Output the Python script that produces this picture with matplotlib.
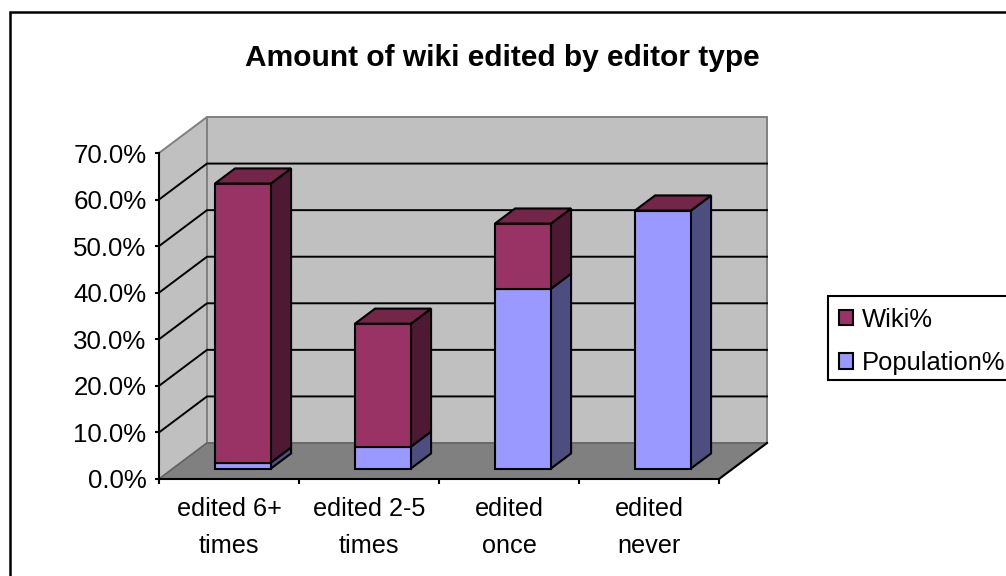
#!/usr/bin/env python

import matplotlib
matplotlib.use('Agg')
import matplotlib.pyplot as plt
from matplotlib.patches import Patch, Polygon, Rectangle

plt.rcParams['font.family'] = ['Liberation Sans', 'DejaVu Sans']

title = 'Amount of wiki edited by editor type'
categories = ['edited 6+\ntimes', 'edited 2-5\ntimes', 'edited\nonce', 'edited\nnever']
population = [1.3, 4.7, 38.6, 55.4]
wiki = [59.9, 26.4, 14.0, 0.0]
y_ticks = [0, 10, 20, 30, 40, 50, 60, 70]

WIKI_COLORS = ('#993366', '#4d1933', '#732647')
POP_COLORS = ('#9999ff', '#4d4d80', '#7373bf')
W, H = 1006, 576
YMAX = 70
LINE = 1.5

# oblique depth of the box, in category and percent units
DEPTH_X = 48 / 140
DEPTH_Y = 36 / (326 / YMAX)
BAR_WIDTH = 0.4
BAR_NEAR = 0.29
BAR_FAR = 0.71


def proj(x, y, d):
    return (x + d * DEPTH_X, y + d * DEPTH_Y)


def face(ax, corners, color, edge='black', lw=LINE, z=1):
    ax.add_patch(Polygon([proj(*c) for c in corners], closed=True, facecolor=color,
                         edgecolor=edge, linewidth=lw, joinstyle='miter',
                         clip_on=False, zorder=z))


def draw_box(ax, x0, x1, y0, y1, colors, z):
    n, f = BAR_NEAR, BAR_FAR
    face(ax, [(x1, y0, n), (x1, y0, f), (x1, y1, f), (x1, y1, n)], colors[1], z=z)
    face(ax, [(x0, y0, n), (x1, y0, n), (x1, y1, n), (x0, y1, n)], colors[0], z=z)


fig = plt.figure(figsize=(W / 100, H / 100), dpi=100)
ax = fig.add_axes([159 / W, (H - 479) / H, 560 / W, 326 / H])
ax.set_xlim(0, len(categories))
ax.set_ylim(0, YMAX)
ax.patch.set_visible(False)

# chart frame, runs off the right and bottom of the image
fig.add_artist(Rectangle((10 / W, -0.1), 1.2, 1.1 - 12.5 / H, transform=fig.transFigure,
                         facecolor='none', edgecolor='black', linewidth=1.8))

# walls and floor
n_cat = len(categories)
face(ax, [(0, 0, 0), (0, 0, 1), (0, YMAX, 1), (0, YMAX, 0)], '#c0c0c0', edge='#808080', lw=1.4)
face(ax, [(0, 0, 1), (n_cat, 0, 1), (n_cat, YMAX, 1), (0, YMAX, 1)], '#c0c0c0', edge='#808080', lw=1.4)
face(ax, [(0, 0, 0), (n_cat, 0, 0), (n_cat, 0, 1), (0, 0, 1)], '#808080', edge='#606060', lw=1.0)

# black front edge of the floor on the right
fx, fy = zip(proj(n_cat, 0, 0), proj(n_cat, 0, 1))
ax.plot(fx, fy, color='black', lw=LINE, clip_on=False, zorder=1.5)

# gridlines across side and back wall
for t in y_ticks[1:-1]:
    pts = [proj(0, t, 0), proj(0, t, 1), proj(n_cat, t, 1)]
    ax.plot([p[0] for p in pts], [p[1] for p in pts], color='black', lw=1.4,
            clip_on=False, zorder=1.5)

# stacked bars, population below wiki
for i in range(n_cat):
    x0 = i + 0.5 - BAR_WIDTH / 2
    x1 = i + 0.5 + BAR_WIDTH / 2
    top = population[i] + wiki[i]
    draw_box(ax, x0, x1, 0, population[i], POP_COLORS, 3 + i)
    if wiki[i] > 0:
        draw_box(ax, x0, x1, population[i], top, WIKI_COLORS, 3 + i)
    face(ax, [(x0, top, BAR_NEAR), (x1, top, BAR_NEAR), (x1, top, BAR_FAR), (x0, top, BAR_FAR)],
         WIKI_COLORS[2], z=3 + i)

# axes
for s in ['top', 'right']:
    ax.spines[s].set_visible(False)
for s in ['left', 'bottom']:
    ax.spines[s].set_linewidth(LINE)
ax.set_yticks(y_ticks)
ax.set_yticklabels(['%.1f%%' % t for t in y_ticks])
ax.set_xticks(range(n_cat + 1))
ax.set_xticklabels([])
ax.set_xticks([i + 0.5 for i in range(n_cat)], labels=categories, minor=True)
ax.tick_params(axis='x', which='major', length=3.6, width=LINE)
ax.tick_params(axis='x', which='minor', length=0, pad=13, labelsize=18.2)
ax.tick_params(axis='y', length=3, width=LINE, pad=6, labelsize=18.6)
for lab in ax.get_xticklabels(minor=True):
    lab.set_linespacing(1.68)

fig.text(502 / W, 1 - 58.5 / H, title, ha='center', va='center', fontsize=21.5, fontweight='bold')

# legend box is its own rectangle, it is cut by the right edge
fig.add_artist(Rectangle((828 / W, 1 - 380 / H), 0.3, 84 / H, transform=fig.transFigure,
                         facecolor='white', edgecolor='black', linewidth=LINE))
handles = [Patch(facecolor=WIKI_COLORS[0], edgecolor='black', linewidth=LINE),
           Patch(facecolor=POP_COLORS[0], edgecolor='black', linewidth=LINE)]
leg = fig.legend(handles, ['Wiki%', 'Population%'], loc='upper left',
                 bbox_to_anchor=(828 / W, 1 - 297 / H), bbox_transform=fig.transFigure,
                 borderaxespad=0, frameon=False,
                 fontsize=18.4, handlelength=0.55, handleheight=0.55, handletextpad=0.35,
                 labelspacing=0.75, borderpad=0.42)

fig.savefig('out.png', dpi=100)
